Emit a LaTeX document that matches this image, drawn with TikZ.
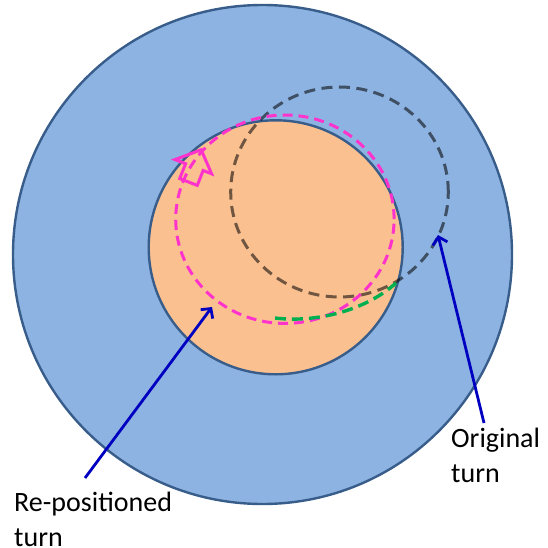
\documentclass[tikz,border=0pt]{standalone}
\usepackage{fontspec}
\setmainfont{Carlito}
\usetikzlibrary{arrows.meta}
\definecolor{outerblue}{RGB}{141,179,226}
\definecolor{rimblue}{RGB}{56,93,138}
\definecolor{innerorange}{RGB}{250,192,144}
\definecolor{turnpink}{RGB}{255,51,204}
\definecolor{turngreen}{RGB}{0,176,80}
\definecolor{pointblue}{RGB}{0,0,192}
\tikzset{
  disc/.style={draw=rimblue, line width=2.4pt},
  oldturn/.style={draw=black, draw opacity=0.55, line width=3pt, dash pattern=on 11pt off 6.5pt},
  newturn/.style={draw=turnpink, line width=3pt, dash pattern=on 10pt off 6pt},
  greenturn/.style={draw=turngreen, line width=3.4pt, dash pattern=on 11pt off 6pt},
  blockarrow/.style={draw=turnpink, line width=3pt, line join=miter},
  pointer/.style={draw=pointblue, line width=2.8pt, -{Straight Barb[length=7pt,width=15pt,line width=2.8pt]}},
  label/.style={font=\fontsize{28}{35}\selectfont, align=left, inner sep=0pt, anchor=north west}
}
\begin{document}
\begin{tikzpicture}[x=1pt,y=-1pt]
\useasboundingbox (0,0) rectangle (547,548);
% outer and inner discs
\node[disc, fill=outerblue, circle, minimum size=499pt, inner sep=0pt] (outer) at (262.5,254.5) {};
\node[disc, fill=innerorange, circle, minimum size=254pt, inner sep=0pt] (inner) at (275.7,247.3) {};
% original turn (grey dashed)
\draw[oldturn] (339.5,192) ellipse [x radius=108.8pt, y radius=105pt];
% re-positioned turn (pink dashed)
\draw[newturn] (284.9,219.2) ellipse [x radius=109.2pt, y radius=104.2pt];
% green dashed arc
\draw[greenturn] (275,318) .. controls (315,323) and (365,311) .. (396,283);
% hollow block arrow on the pink turn
\draw[blockarrow] (179.7,178.6) -- (185.6,163.7) -- (175.0,159.6) -- (201.2,149.8)
  -- (211.6,173.8) -- (203.1,170.5) -- (197.3,185.4) -- cycle;
% labels
\node[label] (orig) at (451,428) {Original\\turn};
\node[label] (repo) at (14,492) {Re-positioned\\turn};
% pointers
\coordinate (origtail) at (484,423);
\coordinate (origtip) at (438,235);
\coordinate (repotail) at (85,478);
\coordinate (repotip) at (212,307);
\draw[pointer] (origtail) -- (origtip);
\draw[pointer] (repotail) -- (repotip);
\end{tikzpicture}
\end{document}
